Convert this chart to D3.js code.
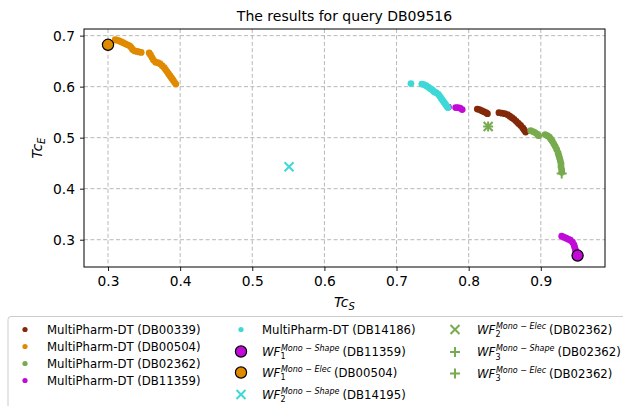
<!DOCTYPE html>
<html>
<head>
<meta charset="utf-8">
<script src="https://cdn.jsdelivr.net/npm/d3@7"></script>
<style>
  body { margin: 0; background: #fff; }
  text { font-family: "DejaVu Sans", sans-serif; fill: #000; }
</style>
</head>
<body>
<svg width="623" height="406"></svg>
<script>
// ---- data: [TcS, TcE] ----
const db00339 = [[0.812,0.556],[0.815,0.555],[0.818,0.553],[0.821,0.551],[0.824,0.549],[0.826,0.547],
  [0.842,0.549],[0.846,0.548],[0.850,0.547],[0.854,0.545],[0.857,0.542],[0.860,0.539],[0.863,0.536],
  [0.866,0.532],[0.869,0.528],[0.872,0.524],[0.875,0.519],[0.877,0.515],[0.879,0.511]];
const db00504 = [[0.310,0.692],[0.312,0.691],[0.315,0.690],[0.318,0.688],[0.321,0.686],[0.324,0.684],
  [0.327,0.682],[0.330,0.680],[0.332,0.677],[0.334,0.673],[0.337,0.670],[0.340,0.669],[0.343,0.668],
  [0.346,0.667],[0.357,0.666],[0.359,0.662],[0.361,0.657],[0.363,0.652],[0.366,0.648],[0.369,0.647],
  [0.372,0.645],[0.375,0.641],[0.378,0.637],[0.380,0.633],[0.382,0.629],[0.384,0.625],[0.386,0.621],
  [0.388,0.617],[0.390,0.613],[0.392,0.609],[0.394,0.605]];
const db02362 = [[0.886,0.514],[0.889,0.512],[0.892,0.510],[0.895,0.507],[0.897,0.504],
  [0.906,0.506],[0.909,0.504],[0.912,0.501],[0.914,0.497],[0.916,0.493],[0.918,0.488],[0.920,0.483],
  [0.922,0.477],[0.924,0.470],[0.925,0.465],[0.926,0.460],[0.927,0.455],[0.928,0.449],[0.928,0.443],
  [0.929,0.437],[0.929,0.432]];
const db11359 = [[0.772,0.560],[0.782,0.559],[0.785,0.559],[0.788,0.558],[0.791,0.555],
  [0.929,0.307],[0.932,0.305],[0.935,0.303],[0.938,0.301],[0.941,0.299],[0.944,0.295],[0.946,0.290],
  [0.947,0.285],[0.948,0.280],[0.949,0.275]];
const db14186 = [[0.720,0.606],[0.735,0.605],[0.738,0.604],[0.741,0.602],[0.744,0.599],[0.747,0.596],
  [0.750,0.593],[0.752,0.590],[0.755,0.588],[0.758,0.585],[0.760,0.581],[0.762,0.577],[0.764,0.573],
  [0.766,0.569],[0.768,0.565],[0.770,0.561],[0.771,0.559]];

// workflow points
const wf1Shape = [0.951, 0.269];   // DB11359
const wf1Elec  = [0.300, 0.682];   // DB00504
const wf2Shape = [0.551, 0.443];   // DB14195
const wf2Elec  = [0.827, 0.522];   // DB02362
const wf3Shape = [0.929, 0.430];   // DB02362
const wf3Elec  = [0.827, 0.522];   // DB02362

const xTicks = [0.3, 0.4, 0.5, 0.6, 0.7, 0.8, 0.9];
const yTicks = [0.3, 0.4, 0.5, 0.6, 0.7];

const colors = {
  db00339: "#83290a", db00504: "#e08a00", db02362: "#77ab4d",
  db11359: "#c20ad8", db14186: "#3ed8d8"
};

const svg = d3.select("svg");
const fs = 11.7;

const x = d3.scaleLinear().domain([0.2667, 0.989]).range([84, 605]);
const y = d3.scaleLinear().domain([0.2465, 0.713]).range([267, 29]);

// grid
svg.append("g").selectAll("line").data(xTicks).join("line")
  .attr("x1", d => x(d)).attr("x2", d => x(d)).attr("y1", 29).attr("y2", 267)
  .attr("stroke", "#b0b0b0").attr("stroke-width", 0.9).attr("stroke-dasharray", "4,2.4");
svg.append("g").selectAll("line").data(yTicks).join("line")
  .attr("y1", d => y(d)).attr("y2", d => y(d)).attr("x1", 84).attr("x2", 605)
  .attr("stroke", "#b0b0b0").attr("stroke-width", 0.9).attr("stroke-dasharray", "4,2.4");

// axes
const xAxis = svg.append("g").attr("transform", "translate(0,267)")
  .call(d3.axisBottom(x).tickValues(xTicks).tickFormat(d3.format(".1f")).tickSize(4).tickPadding(5));
const yAxis = svg.append("g").attr("transform", "translate(84,0)")
  .call(d3.axisLeft(y).tickValues(yTicks).tickFormat(d3.format(".1f")).tickSize(4).tickPadding(5));
[xAxis, yAxis].forEach(a => {
  a.select(".domain").remove();
  a.selectAll("text").style("font-size", "13.8px").style("font-family", "DejaVu Sans");
  a.selectAll("line").attr("stroke", "#000").attr("stroke-width", 0.9);
});

// series dots
const series = [
  [db00339, colors.db00339], [db00504, colors.db00504], [db02362, colors.db02362],
  [db11359, colors.db11359], [db14186, colors.db14186]
];
series.forEach(([data, c]) => {
  svg.append("g").selectAll("circle").data(data).join("circle")
    .attr("cx", d => x(d[0])).attr("cy", d => y(d[1])).attr("r", 3.4)
    .attr("fill", c);
});

// marker helpers
function bigCircle(g, cx, cy, c) {
  g.append("circle").attr("cx", cx).attr("cy", cy).attr("r", 5.6)
    .attr("fill", c).attr("stroke", "#000").attr("stroke-width", 1.2);
}
function xMark(g, cx, cy, c) {
  const s = 4.5;
  g.append("path").attr("d", `M${cx-s},${cy-s}L${cx+s},${cy+s}M${cx-s},${cy+s}L${cx+s},${cy-s}`)
    .attr("stroke", c).attr("stroke-width", 2).attr("fill", "none");
}
function plusMark(g, cx, cy, c) {
  const s = 5;
  g.append("path").attr("d", `M${cx-s},${cy}L${cx+s},${cy}M${cx},${cy-s}L${cx},${cy+s}`)
    .attr("stroke", c).attr("stroke-width", 2).attr("fill", "none");
}

const marks = svg.append("g");
bigCircle(marks, x(wf1Shape[0]), y(wf1Shape[1]), colors.db11359);
bigCircle(marks, x(wf1Elec[0]), y(wf1Elec[1]), colors.db00504);
xMark(marks, x(wf2Shape[0]), y(wf2Shape[1]), colors.db14186);
xMark(marks, x(wf2Elec[0]), y(wf2Elec[1]), colors.db02362);
plusMark(marks, x(wf3Shape[0]), y(wf3Shape[1]), colors.db02362);
plusMark(marks, x(wf3Elec[0]), y(wf3Elec[1]), colors.db02362);

// frame
svg.append("rect").attr("x", 84).attr("y", 29).attr("width", 521).attr("height", 238)
  .attr("fill", "none").attr("stroke", "#000").attr("stroke-width", 1);

// title and labels
svg.append("text").attr("x", 344.5).attr("y", 20.5).attr("text-anchor", "middle")
  .style("font-size", "14px").text("The results for query DB09516");

const xl = svg.append("text").attr("x", 344.5).attr("y", 307).attr("text-anchor", "middle")
  .style("font-size", "14px").style("font-style", "italic");
xl.append("tspan").text("Tc");
xl.append("tspan").attr("dy", 3).style("font-size", "10px").text("S");

const yl = svg.append("text").attr("transform", "translate(42,148) rotate(-90)").attr("text-anchor", "middle")
  .style("font-size", "14px").style("font-style", "italic");
yl.append("tspan").text("Tc");
yl.append("tspan").attr("dy", 3).style("font-size", "10px").text("E");

// legend
const leg = svg.append("g");
leg.append("rect").attr("x", 8).attr("y", 316.5).attr("width", 640).attr("height", 120).attr("rx", 3)
  .attr("fill", "#fff").attr("stroke", "#cccccc").attr("stroke-width", 1);

function plainLabel(tx, ty, label) {
  leg.append("text").attr("x", tx).attr("y", ty + 4.2).style("font-size", fs + "px").text(label);
}
function mathLabel(tx, ty, sub, sup, rest) {
  const base = ty + 4.2;
  const t = leg.append("text").attr("x", tx).attr("y", base).style("font-size", fs + "px")
    .style("font-style", "italic").text("WF");
  const w = t.node().getComputedTextLength();
  const sp = leg.append("text").attr("x", tx + w + 0.6).attr("y", base - 5.2)
    .style("font-size", "8px").style("font-style", "italic").text(sup);
  leg.append("text").attr("x", tx + w + 0.2).attr("y", base + 3.4)
    .style("font-size", "8px").text(sub);
  const sw = sp.node().getComputedTextLength();
  leg.append("text").attr("x", tx + w + sw + 3.6).attr("y", base).style("font-size", fs + "px").text(rest);
}

const dot = (cx, cy, c) => leg.append("circle").attr("cx", cx).attr("cy", cy).attr("r", 2.6).attr("fill", c);

// column 1
const c1 = [329.5, 346.5, 363.5, 380.5];
dot(25, c1[0], colors.db00339); plainLabel(47, c1[0], "MultiPharm-DT (DB00339)");
dot(25, c1[1], colors.db00504); plainLabel(47, c1[1], "MultiPharm-DT (DB00504)");
dot(25, c1[2], colors.db02362); plainLabel(47, c1[2], "MultiPharm-DT (DB02362)");
dot(25, c1[3], colors.db11359); plainLabel(47, c1[3], "MultiPharm-DT (DB11359)");

// column 2
const c2 = [329.5, 351.5, 372.5, 394.5];
dot(241, c2[0], colors.db14186); plainLabel(262, c2[0], "MultiPharm-DT (DB14186)");
bigCircle(leg, 241, c2[1], colors.db11359); mathLabel(262, c2[1], "1", "Mono − Shape", "(DB11359)");
bigCircle(leg, 241, c2[2], colors.db00504); mathLabel(262, c2[2], "1", "Mono − Elec", "(DB00504)");
xMark(leg, 241, c2[3], colors.db14186); mathLabel(262, c2[3], "2", "Mono − Shape", "(DB14195)");

// column 3
const c3 = [329.5, 352, 373.5];
xMark(leg, 455, c3[0], colors.db02362); mathLabel(477, c3[0], "2", "Mono − Elec", "(DB02362)");
plusMark(leg, 455, c3[1], colors.db02362); mathLabel(477, c3[1], "3", "Mono − Shape", "(DB02362)");
plusMark(leg, 455, c3[2], colors.db02362); mathLabel(477, c3[2], "3", "Mono − Elec", "(DB02362)");
</script>
</body>
</html>
